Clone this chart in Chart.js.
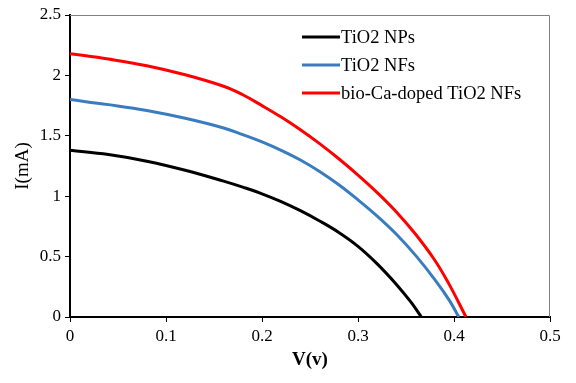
<!DOCTYPE html>
<html><head><meta charset="utf-8">
<script src="https://cdn.jsdelivr.net/npm/chart.js@4/dist/chart.umd.min.js"></script>
<style>html,body{margin:0;padding:0;background:#fff}#wrap{width:576px;height:383px}</style>
</head><body><div id="wrap"><canvas id="c" width="576" height="383"></canvas></div>
<script>
const seriesNames = ["TiO2 NPs", "TiO2 NFs", "bio-Ca-doped TiO2 NFs"];
const npsV = [0, 0.04, 0.08, 0.12, 0.16, 0.18, 0.2, 0.22, 0.24, 0.26, 0.28, 0.3, 0.32, 0.34, 0.355, 0.366];
const npsI = [1.38, 1.345, 1.29, 1.215, 1.125, 1.075, 1.02, 0.955, 0.88, 0.795, 0.70, 0.585, 0.44, 0.27, 0.125, 0];
const nfsV = [0, 0.04, 0.08, 0.12, 0.16, 0.18, 0.2, 0.22, 0.24, 0.26, 0.28, 0.3, 0.32, 0.34, 0.36, 0.38, 0.395, 0.405];
const nfsI = [1.80, 1.758, 1.71, 1.645, 1.565, 1.51, 1.45, 1.38, 1.30, 1.205, 1.095, 0.97, 0.835, 0.685, 0.51, 0.31, 0.14, 0];
const caV = [0, 0.04, 0.08, 0.12, 0.16, 0.18, 0.2, 0.22, 0.24, 0.26, 0.28, 0.3, 0.32, 0.34, 0.36, 0.38, 0.395, 0.4125];
const caI = [2.18, 2.135, 2.08, 2.005, 1.91, 1.84, 1.75, 1.655, 1.55, 1.435, 1.31, 1.175, 1.03, 0.87, 0.685, 0.47, 0.27, 0];
const xTickLabels = ["0", "0.1", "0.2", "0.3", "0.4", "0.5"];
const yTickLabels = ["0", "0.5", "1", "1.5", "2", "2.5"];
const colors = ["#000000", "#3a7cc0", "#ff0000"];

const toPts = (xs, ys) => xs.map((x, i) => ({x: x, y: ys[i]}));
const serif = "'Liberation Serif', 'Times New Roman', serif";

const framePlugin = {
  id: 'frame',
  beforeDatasetsDraw(chart) {
    const a = chart.chartArea, ctx = chart.ctx;
    ctx.save();
    ctx.strokeStyle = '#808080'; ctx.lineWidth = 1;
    ctx.beginPath();
    ctx.moveTo(a.left, a.top + 0.5); ctx.lineTo(a.right - 0.5, a.top + 0.5); ctx.lineTo(a.right - 0.5, a.bottom);
    ctx.stroke();
    ctx.restore();
  },
  afterDraw(chart) {
    const ctx = chart.ctx;
    ctx.save();
    ctx.font = "18.5px " + serif;
    ctx.textBaseline = 'middle';
    chart.data.datasets.forEach((ds, i) => {
      const y = 37 + i * 28;
      ctx.strokeStyle = ds.borderColor; ctx.lineWidth = 3;
      ctx.beginPath(); ctx.moveTo(302, y); ctx.lineTo(340, y); ctx.stroke();
      ctx.fillStyle = '#000';
      ctx.fillText(ds.label, 341, y + 1);
    });
    ctx.restore();
  }
};

new Chart(document.getElementById('c'), {
  type: 'scatter',
  data: {
    datasets: [
      {label: seriesNames[0], data: toPts(npsV, npsI), borderColor: colors[0]},
      {label: seriesNames[1], data: toPts(nfsV, nfsI), borderColor: colors[1]},
      {label: seriesNames[2], data: toPts(caV, caI), borderColor: colors[2]}
    ].map(d => Object.assign(d, {showLine: true, pointRadius: 0, borderWidth: 3, tension: 0.4, fill: false}))
  },
  options: {
    responsive: false, animation: false,
    layout: {padding: {top: 15, right: 26, left: 0, bottom: 0}},
    plugins: {legend: {display: false}, tooltip: {enabled: false}},
    scales: {
      x: {
        type: 'linear', min: 0, max: 0.5,
        ticks: {stepSize: 0.1, color: '#000', font: {family: serif, size: 17}, padding: 4,
          callback: (v) => xTickLabels[Math.round(v * 10)]},
        grid: {drawOnChartArea: false, drawTicks: true, tickLength: 5, color: '#000'},
        border: {display: true, color: '#000', width: 2},
        title: {display: true, text: 'V(v)', color: '#000', font: {family: serif, size: 19, weight: 'bold'}, padding: {top: 4, bottom: 12}},
        afterFit: (s) => { s.height = 66; }
      },
      y: {
        type: 'linear', min: 0, max: 2.5,
        ticks: {stepSize: 0.5, color: '#000', font: {family: serif, size: 17}, padding: 4,
          callback: (v) => yTickLabels[Math.round(v * 2)]},
        grid: {drawOnChartArea: false, drawTicks: true, tickLength: 5, color: '#000'},
        border: {display: true, color: '#000', width: 2},
        title: {display: true, text: 'I(mA)', color: '#000', font: {family: serif, size: 19}, padding: {top: 12, bottom: 2}},
        afterFit: (s) => { s.width = 70; }
      }
    }
  },
  plugins: [framePlugin]
});
</script></body></html>
